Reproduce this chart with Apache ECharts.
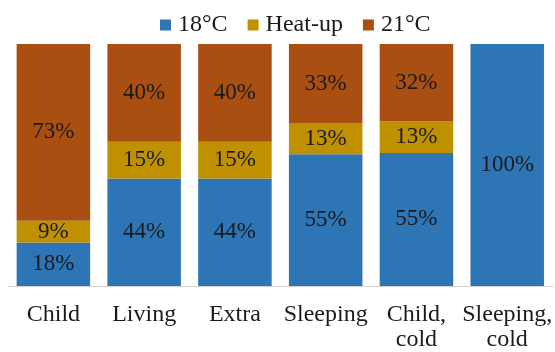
<!DOCTYPE html>
<html>
<head>
<meta charset="utf-8">
<script src="https://cdn.jsdelivr.net/npm/echarts@6/dist/echarts.min.js"></script>
<style>
  html, body { margin: 0; padding: 0; background: #fff; }
  #chart { width: 555px; height: 352px; }
</style>
</head>
<body>
<div id="chart"></div>
<script>
var categories = ['Child', 'Living', 'Extra', 'Sleeping', 'Child,\ncold', 'Sleeping,\ncold'];
var cold18 = [18, 44, 44, 55, 55, 100];
var heatUp = [9, 15, 15, 13, 13, 0];
var warm21 = [73, 40, 40, 33, 32, 0];

// 100% stacked: scale each column to its own total, keep the printed value
function share(arr, i) {
  var total = cold18[i] + heatUp[i] + warm21[i];
  return arr[i] / total * 100;
}
function toData(arr) {
  return arr.map(function (v, i) {
    return { value: share(arr, i), raw: v };
  });
}

var myChart = echarts.init(document.getElementById('chart'));
var font = 'Liberation Serif, Times New Roman, serif';

function makeSeries(name, arr, color) {
  return {
    name: name,
    type: 'bar',
    stack: 'all',
    barWidth: '81%',
    itemStyle: { color: color },
    label: {
      show: true,
      position: 'inside',
      color: '#1a1a1a',
      fontFamily: font,
      fontSize: 23,
      formatter: function (p) {
        return p.data.raw > 0 ? p.data.raw + '%' : '';
      }
    },
    data: toData(arr)
  };
}

var option = {
  animation: false,
  backgroundColor: '#fff',
  legend: {
    top: 8,
    left: 155,
    itemWidth: 11,
    itemHeight: 11,
    itemGap: 20,
    icon: 'rect',
    textStyle: { fontFamily: font, fontSize: 24, color: '#1a1a1a', padding: [0, 0, 0, 2] },
    data: ['18°C', 'Heat-up', '21°C']
  },
  grid: {
    left: 8,
    right: 0,
    top: 44,
    bottom: 65
  },
  xAxis: {
    type: 'category',
    data: categories,
    axisLine: { lineStyle: { color: '#d0d0d0', width: 1 } },
    axisTick: { show: false },
    axisLabel: {
      interval: 0,
      margin: 16,
      fontFamily: font,
      fontSize: 24,
      color: '#1a1a1a',
      lineHeight: 25
    }
  },
  yAxis: {
    type: 'value',
    min: 0,
    max: 100,
    show: false,
    splitLine: { show: false }
  },
  series: [
    makeSeries('18°C', cold18, '#2E75B6'),
    makeSeries('Heat-up', heatUp, '#BF9000'),
    makeSeries('21°C', warm21, '#A94F12')
  ]
};

myChart.setOption(option);
</script>
</body>
</html>
